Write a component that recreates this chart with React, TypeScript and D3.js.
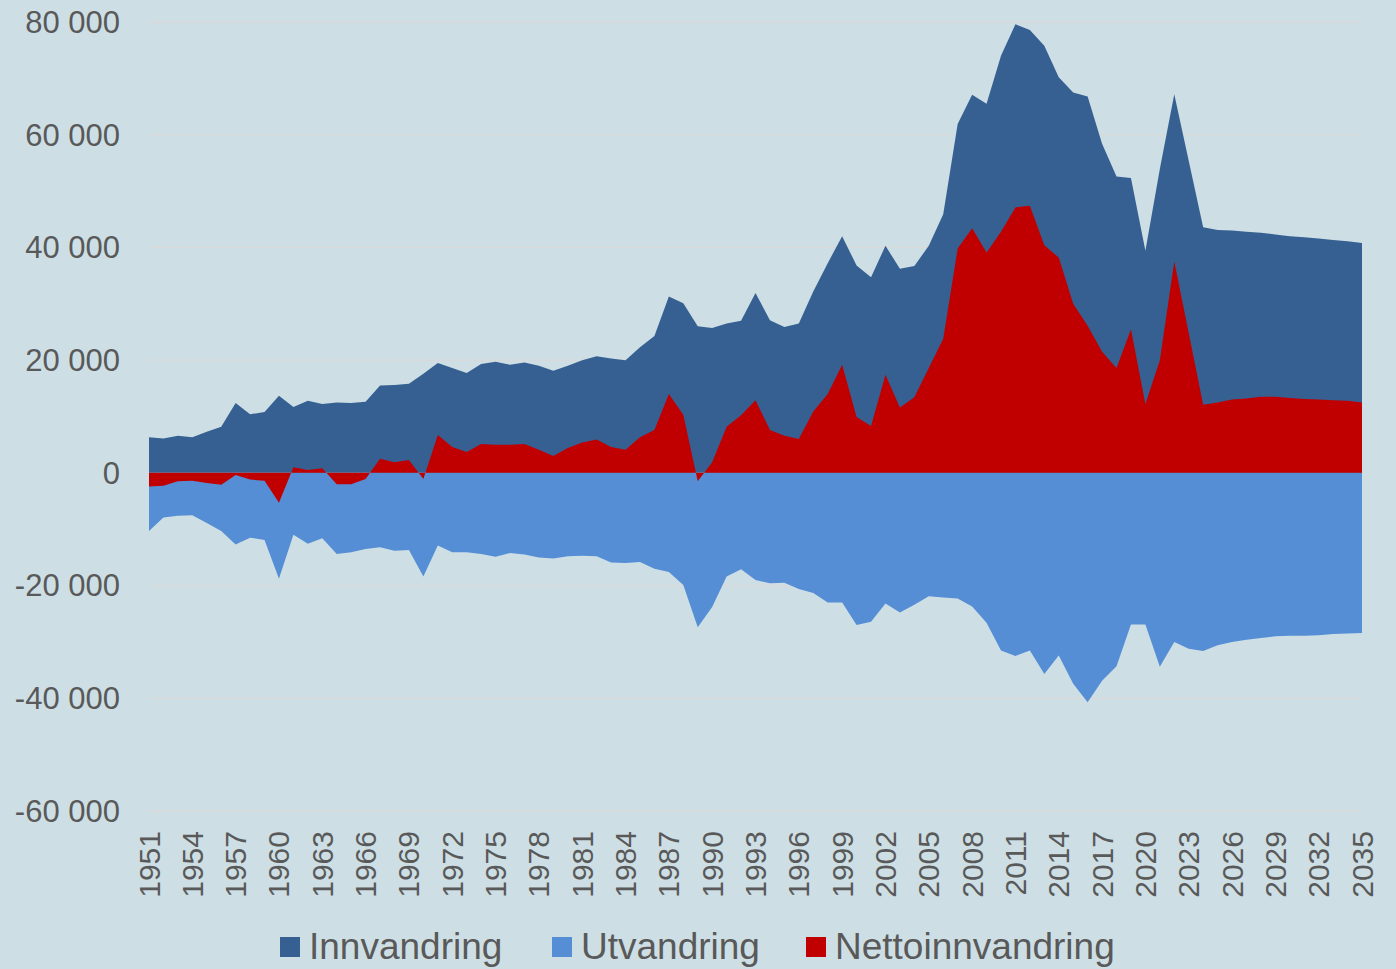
import React from "react";
import * as d3 from "d3";

const startYear = 1951;

const innvandring = [
  6300, 6100, 6600, 6300, 7300, 8200, 12400, 10400, 10800, 13700,
  11700, 12800, 12200, 12500, 12400, 12600, 15500, 15600, 15800, 17600,
  19500, 18600, 17700, 19300, 19700, 19200, 19600, 19000, 18100, 19000,
  20000, 20700, 20300, 20000, 22300, 24300, 31300, 30100, 26000, 25700,
  26500, 27000, 31900, 27100, 25900, 26500, 32200, 37200, 42000, 36800,
  34700, 40300, 36200, 36700, 40300, 45900, 61900, 67100, 65500, 74000,
  79600, 78600, 75800, 70200, 67500, 66800, 58400, 52600, 52300, 39400,
  53900, 67200, 55400, 43600, 43100, 43000, 42800, 42600, 42300, 42000,
  41800, 41600, 41300, 41100, 40800,
];

const utvandring = [
  -10300, -7900, -7600, -7500, -8900, -10300, -12700, -11500, -11900, -18800,
  -11000, -12600, -11600, -14400, -14100, -13500, -13200, -13800, -13700, -18400,
  -12900, -14100, -14100, -14400, -14900, -14200, -14500, -15000, -15200, -14800,
  -14700, -14800, -15900, -16000, -15800, -17000, -17600, -19900, -27400, -23800,
  -18400, -17100, -19000, -19600, -19500, -20600, -21300, -23000, -23000, -27000,
  -26400, -23200, -24800, -23400, -21900, -22100, -22300, -23700, -26600, -31500,
  -32500, -31500, -35700, -32400, -37400, -40700, -36900, -34300, -26900, -26900,
  -34400, -30000, -31200, -31600, -30600, -30000, -29600, -29300, -29000, -28900,
  -28900, -28800, -28600, -28500, -28400,
];

const nettoinnvandring = [
  -2400, -2300, -1500, -1400, -1800, -2100, -400, -1200, -1400, -5300,
  1000, 500, 800, -2000, -2000, -1100, 2500, 1900, 2300, -1100,
  6700, 4600, 3700, 5100, 5000, 5000, 5100, 4100, 3000, 4400,
  5400, 5900, 4600, 4100, 6300, 7600, 14000, 10300, -1500, 1900,
  8200, 10200, 12900, 7600, 6600, 6000, 10900, 14000, 19200, 9900,
  8300, 17400, 11600, 13400, 18600, 23800, 39800, 43400, 39100, 42800,
  47100, 47400, 40400, 38200, 30000, 26100, 21500, 18600, 25500, 12200,
  20000, 37500, 24800, 12100, 12500, 13000, 13200, 13500, 13500, 13300,
  13100, 13000, 12900, 12800, 12500,
];

const yTicks = [80000, 60000, 40000, 20000, 0, -20000, -40000, -60000];
const xTickLabels = [
  1951, 1954, 1957, 1960, 1963, 1966, 1969, 1972, 1975, 1978, 1981, 1984,
  1987, 1990, 1993, 1996, 1999, 2002, 2005, 2008, 2011, 2014, 2017, 2020,
  2023, 2026, 2029, 2032, 2035,
];

const seriesNames = ["Innvandring", "Utvandring", "Nettoinnvandring"];
const seriesColors = ["#366092", "#558ed5", "#c00000"];

const W = 1396;
const H = 969;
const BG = "#cddfe5";
const TEXT = "#595959";

const fmt = (v: number) => {
  const s = Math.abs(v).toString().replace(/\B(?=(\d{3})+(?!\d))/g, " ");
  return (v < 0 ? "-" : "") + s;
};

export default function App() {
  const x = d3.scaleLinear().domain([1951, 2035]).range([149, 1362]);
  const y = d3.scaleLinear().domain([-60000, 80000]).range([811, 22]);

  const area = d3
    .area<number>()
    .x((_, i) => x(startYear + i))
    .y0(() => y(0))
    .y1((d) => y(d));

  const series = [innvandring, utvandring, nettoinnvandring];

  const legendSquareX = [280, 552, 806];

  return (
    <svg
      width={W}
      height={H}
      style={{ position: "absolute", left: 0, top: 0, display: "block" }}
      fontFamily="'Liberation Sans', Arial, sans-serif"
    >
      <rect x={0} y={0} width={W} height={H} fill={BG} />
      {yTicks.map((t) => (
        <g key={t}>
          <line
            x1={149}
            x2={1362}
            y1={y(t)}
            y2={y(t)}
            stroke="#d9d9d9"
            strokeWidth={1.3}
          />
          <text
            x={120}
            y={y(t)}
            dy="0.35em"
            textAnchor="end"
            fontSize={31}
            fill={TEXT}
          >
            {fmt(t)}
          </text>
        </g>
      ))}
      {series.map((s, i) => (
        <path key={i} d={area(s) || ""} fill={seriesColors[i]} />
      ))}
      {xTickLabels.map((yr) => (
        <text
          key={yr}
          transform={`translate(${x(yr) + 10.5},831) rotate(-90)`}
          textAnchor="end"
          fontSize={30}
          fill={TEXT}
        >
          {yr}
        </text>
      ))}
      {seriesNames.map((n, i) => (
        <g key={n}>
          <rect
            x={legendSquareX[i]}
            y={937}
            width={20}
            height={20}
            fill={seriesColors[i]}
          />
          <text
            x={legendSquareX[i] + 29}
            y={959}
            fontSize={37}
            fill={TEXT}
          >
            {n}
          </text>
        </g>
      ))}
    </svg>
  );
}
